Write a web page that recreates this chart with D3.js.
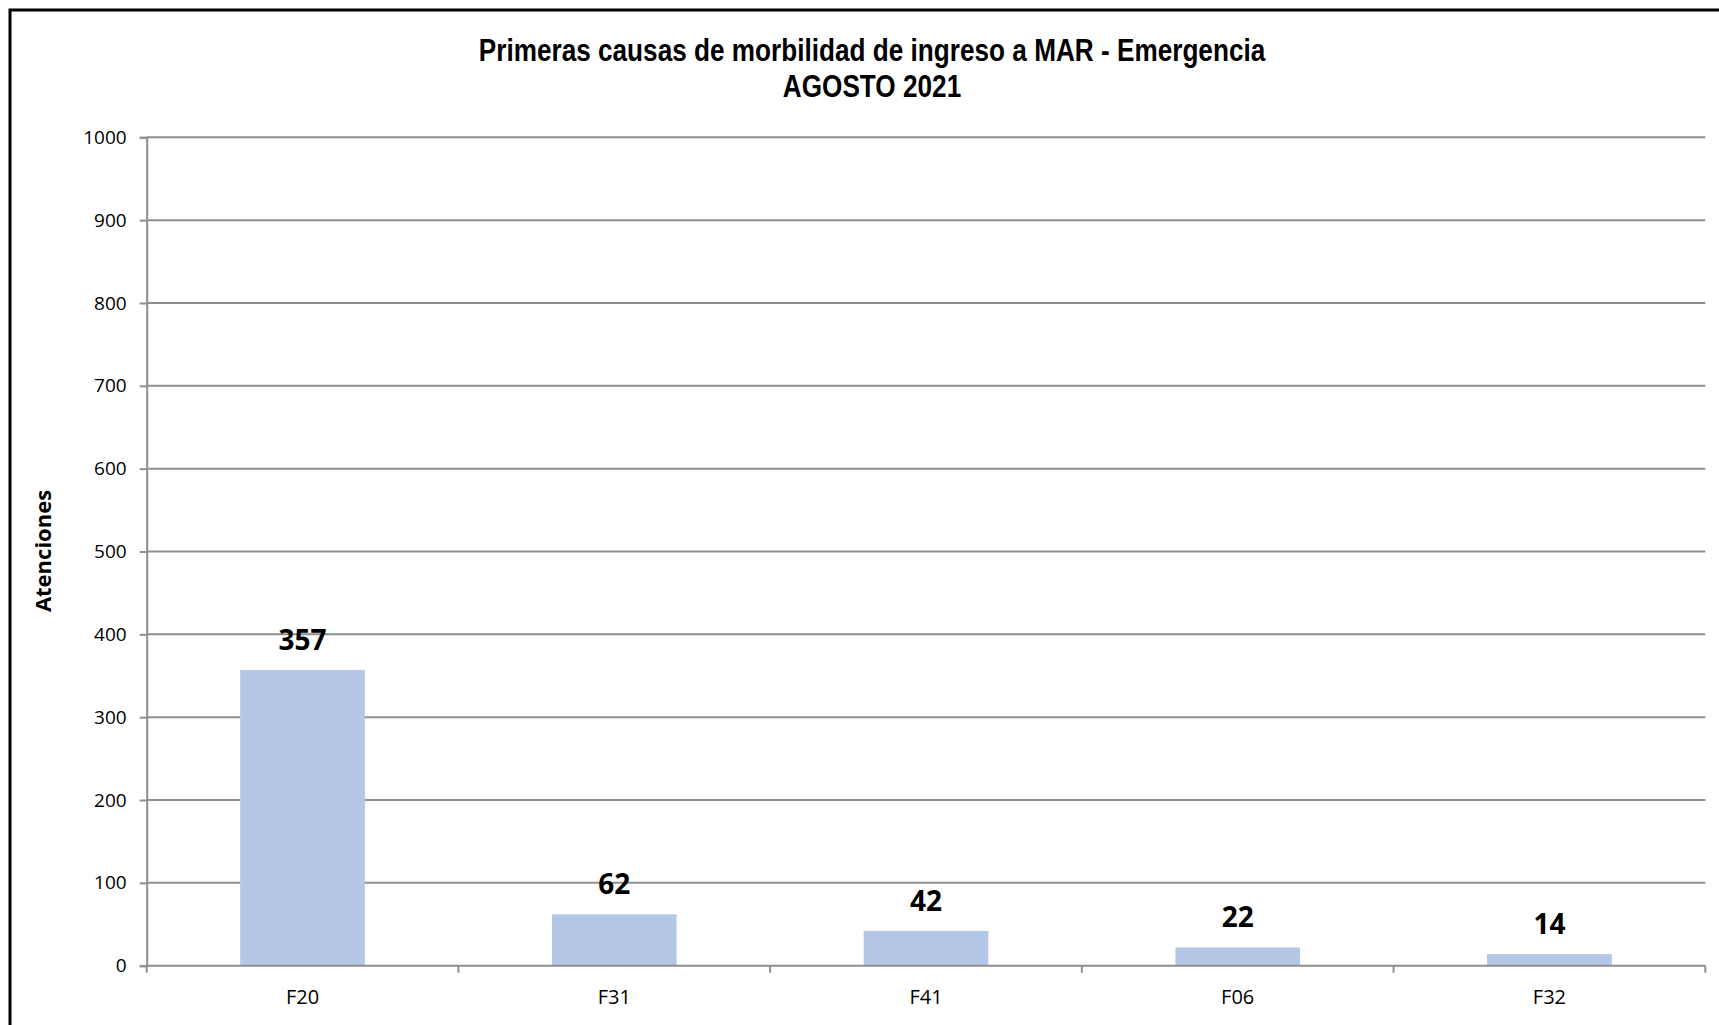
<!DOCTYPE html>
<html><head><meta charset="utf-8">
<script src="https://cdn.jsdelivr.net/npm/d3@7"></script>
<style>
html,body{margin:0;padding:0;background:#fff;}
svg{display:block;}
</style>
</head><body>
<svg id="chart" width="1719" height="1025"></svg>
<script>
const categories = ["F20", "F31", "F41", "F06", "F32"];
const values = [357, 62, 42, 22, 14];
const yTicks = [0, 100, 200, 300, 400, 500, 600, 700, 800, 900, 1000];
const titleLines = ["Primeras causas de morbilidad de ingreso a MAR - Emergencia", "AGOSTO 2021"];
const yTitle = "Atenciones";

const svg = d3.select("#chart");
const m = {left: 146.7, right: 1705.3, top: 137.3, bottom: 965.7};

// outer frame (extends beyond the visible area, as in the reference)
svg.append("rect").attr("x", 10).attr("y", 10).attr("width", 1800).attr("height", 1100)
  .attr("fill", "none").attr("stroke", "#000").attr("stroke-width", 3);

const x = d3.scaleBand().domain(categories).range([m.left, m.right]).paddingInner(0.6).paddingOuter(0.3);
const y = d3.scaleLinear().domain([0, 1000]).range([m.bottom, m.top]);
const grey = "#8e8e8e";

// gridlines
svg.append("g").selectAll("line").data(yTicks.filter(d => d > 0)).join("line")
  .attr("x1", m.left).attr("x2", m.right)
  .attr("y1", d => y(d)).attr("y2", d => y(d))
  .attr("stroke", grey).attr("stroke-width", 2);

// y axis
const yAxis = svg.append("g").attr("transform", `translate(${m.left},0)`)
  .call(d3.axisLeft(y).tickValues(yTicks).tickFormat(d3.format("d")).tickSize(7).tickPadding(13));
yAxis.attr("font-size", null).attr("font-family", null);
yAxis.select(".domain").attr("stroke", grey).attr("stroke-width", 2);
yAxis.selectAll(".tick line").attr("stroke", grey).attr("stroke-width", 2);
yAxis.selectAll(".tick text").style("font-family", "'Open Sans', sans-serif").style("font-size", "19px").attr("fill", "#000");

// bars
svg.append("g").selectAll("rect").data(values).join("rect")
  .attr("x", (d, i) => x(categories[i]))
  .attr("width", x.bandwidth())
  .attr("y", d => y(d))
  .attr("height", d => y(0) - y(d))
  .attr("fill", "#b4c7e7");

// x axis
const xTickPos = d3.range(categories.length + 1).map(i => m.left + i * (m.right - m.left) / categories.length);
svg.append("g").selectAll("line").data(xTickPos).join("line")
  .attr("x1", d => d).attr("x2", d => d).attr("y1", m.bottom).attr("y2", m.bottom + 7)
  .attr("stroke", grey).attr("stroke-width", 2);
svg.append("line").attr("x1", m.left).attr("x2", m.right).attr("y1", m.bottom).attr("y2", m.bottom)
  .attr("stroke", grey).attr("stroke-width", 2);
svg.append("g").selectAll("text").data(categories).join("text")
  .attr("x", d => x(d) + x.bandwidth() / 2).attr("y", 1003.5)
  .attr("text-anchor", "middle")
  .style("font-family", "'Open Sans', sans-serif").style("font-size", "20px").attr("fill", "#000")
  .text(d => d);

// data labels
svg.append("g").selectAll("text").data(values).join("text")
  .attr("x", (d, i) => x(categories[i]) + x.bandwidth() / 2)
  .attr("y", d => y(d) - 20)
  .attr("text-anchor", "middle")
  .style("font-family", "'Open Sans', sans-serif").style("font-weight", "bold").style("font-size", "28px").attr("fill", "#000")
  .text(d => d);

// title (condensed to match the narrow bold face of the reference)
const tg = svg.append("g");
const tt = tg.selectAll("text").data(titleLines).join("text")
  .attr("x", 0).attr("y", (d, i) => 61.5 + i * 35.5)
  .attr("text-anchor", "middle")
  .style("font-family", "'Liberation Sans', Arial, sans-serif")
  .style("font-weight", "bold").style("font-size", "31px").attr("fill", "#000")
  .text(d => d);
const len0 = tt.nodes()[0].getComputedTextLength();
const sx = 787 / len0;
tg.attr("transform", `translate(872,0) scale(${sx},1)`);

// y axis title
svg.append("text")
  .attr("transform", "translate(51,551) rotate(-90)")
  .attr("text-anchor", "middle")
  .style("font-family", "'Open Sans', sans-serif").style("font-weight", "bold").style("font-size", "22px").attr("fill", "#000")
  .text(yTitle);
</script>
</body></html>
